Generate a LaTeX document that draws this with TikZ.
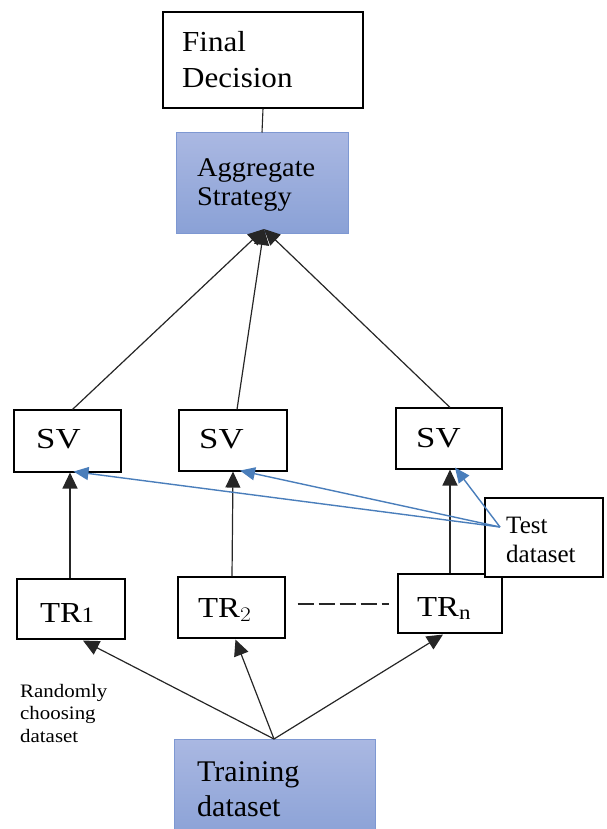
\documentclass[tikz,border=0pt]{standalone}
\usepackage{fontspec}
\setmainfont{Liberation Serif}
\usetikzlibrary{arrows.meta}
\definecolor{linkblue}{RGB}{74,126,187}
\definecolor{boxedge}{RGB}{126,152,210}
\definecolor{shadetop}{RGB}{170,184,226}
\definecolor{shadebot}{RGB}{138,161,214}
% horizontally widened text
\newcommand{\widetext}[2]{\scalebox{#1}[1]{#2}}
\tikzset{
  plainbox/.style={draw=black, line width=1.1pt, fill=white, rectangle, inner sep=0pt},
  bluebox/.style={draw=boxedge, line width=1pt, rectangle, inner sep=0pt, top color=shadetop, bottom color=shadebot},
  lbl/.style={anchor=base west, inner sep=0pt, text=black},
  arr/.style={draw=black!85, line width=1.2pt, -{Triangle[length=16pt,width=15pt]}},
  testarr/.style={draw=linkblue, line width=1.4pt, -{Triangle[length=15pt,width=13pt]}},
  link/.style={draw=black!85, line width=1.1pt},
}
\begin{document}
\begin{tikzpicture}[x=1pt,y=-1pt]
\useasboundingbox (0,0) rectangle (606,829);
\clip (0,0) rectangle (606,829);

% boxes (centre, width, height)
\node[plainbox, minimum width=200pt, minimum height=96pt] (final) at (263,60) {};
\node[bluebox, minimum width=172pt, minimum height=100pt] (agg) at (262,183) {};
\node[plainbox, minimum width=107pt, minimum height=62pt] (sv1) at (67.5,441) {};
\node[plainbox, minimum width=108pt, minimum height=61pt] (sv2) at (233,440.5) {};
\node[plainbox, minimum width=106pt, minimum height=61pt] (sv3) at (449,438.5) {};
\node[plainbox, minimum width=108pt, minimum height=60pt] (tr1) at (71,609) {};
\node[plainbox, minimum width=107pt, minimum height=61pt] (tr2) at (231.5,607.5) {};
\node[plainbox, minimum width=104pt, minimum height=59pt] (trn) at (450,603.5) {};
\node[plainbox, minimum width=118pt, minimum height=79pt] (test) at (544,537.5) {};
\node[bluebox, minimum width=201pt, minimum height=100pt] (train) at (274.5,789) {};

% labels
\node[lbl, font=\fontsize{29}{29}\selectfont] (tFinal) at (182,52) {\widetext{1.07}{Final}};
\node[lbl, font=\fontsize{29}{29}\selectfont] (tDecision) at (182,88) {\widetext{1.07}{Decision}};
\node[lbl, font=\fontsize{27}{27}\selectfont] (tAgg) at (197,177) {\widetext{1.05}{Aggregate}};
\node[lbl, font=\fontsize{27}{27}\selectfont] (tStrat) at (197,205) {\widetext{1.05}{Strategy}};
\node[lbl, font=\fontsize{29}{29}\selectfont] (tSV1) at (36,448) {\widetext{1.2}{SV}};
\node[lbl, font=\fontsize{29}{29}\selectfont] (tSV2) at (199,448) {\widetext{1.2}{SV}};
\node[lbl, font=\fontsize{29}{29}\selectfont] (tSV3) at (416,447) {\widetext{1.2}{SV}};
\node[lbl, font=\fontsize{29}{29}\selectfont] (tTR1) at (40,622) {\widetext{1.13}{TR\kern-0.5pt\fontsize{22}{22}\selectfont 1}};
\node[lbl, font=\fontsize{29}{29}\selectfont] (tTR2) at (198,617) {\widetext{1.13}{TR$_{\fontsize{20}{20}\selectfont 2}$}};
\node[lbl, font=\fontsize{29}{29}\selectfont] (tTRn) at (417,616) {\widetext{1.13}{TR$_{\fontsize{20}{20}\selectfont \mathrm{n}}$}};
\node[lbl, font=\fontsize{25}{25}\selectfont] (tTest) at (506,533) {Test};
\node[lbl, font=\fontsize{25}{25}\selectfont] (tData) at (506,562) {dataset};
\node[lbl, font=\fontsize{30}{30}\selectfont] (tTrain) at (197,781) {Training};
\node[lbl, font=\fontsize{30}{30}\selectfont] (tTrainData) at (197,816) {dataset};
\node[lbl, font=\fontsize{19}{19}\selectfont] (tRand) at (20,697) {\widetext{1.1}{Randomly}};
\node[lbl, font=\fontsize{19}{19}\selectfont] (tChoose) at (20,719) {\widetext{1.1}{choosing}};
\node[lbl, font=\fontsize{19}{19}\selectfont] (tSet) at (20,742) {\widetext{1.1}{dataset}};

% connector ends
\coordinate (aggIn) at (264,229);
\coordinate (testOut) at (500,527);
\coordinate (trainOut) at (274,739);

% final decision to aggregate
\draw[link] (final.south) -- (agg.north);

% classifiers to aggregate
\draw[arr] ([xshift=5pt]sv1.north) -- (aggIn);
\draw[arr] ([xshift=4pt]sv2.north) -- (aggIn);
\draw[arr] ([xshift=1pt]sv3.north) -- (aggIn);

% training subsets to classifiers
\draw[arr] ([xshift=-1pt]tr1.north) -- ([xshift=2.5pt]sv1.south);
\draw[arr] ([xshift=0.5pt]tr2.north) -- ([xshift=0pt]sv2.south);
\draw[arr] ([xshift=0pt]trn.north) -- ([xshift=1pt]sv3.south);

% test data to classifiers
\draw[testarr] (testOut) -- ([xshift=6pt,yshift=1pt]sv1.south);
\draw[testarr] (testOut) -- ([xshift=7pt,yshift=1pt]sv2.south);
\draw[testarr] (testOut) -- ([xshift=6pt,yshift=2pt]sv3.south);

% gap between the subsets
\draw[black!85, line width=2pt, dash pattern=on 16pt off 5pt] (tr2.east |- 0,604) ++(12,0) -- ([xshift=-8pt]trn.west |- 0,604);

% random sampling from the training data
\draw[arr] (trainOut) -- ([xshift=12pt,yshift=-1pt]tr1.south);
\draw[arr] (trainOut) -- ([xshift=4pt,yshift=-1pt]tr2.south);
\draw[arr] (trainOut) -- ([xshift=-7pt,yshift=-1pt]trn.south);
\end{tikzpicture}
\end{document}
